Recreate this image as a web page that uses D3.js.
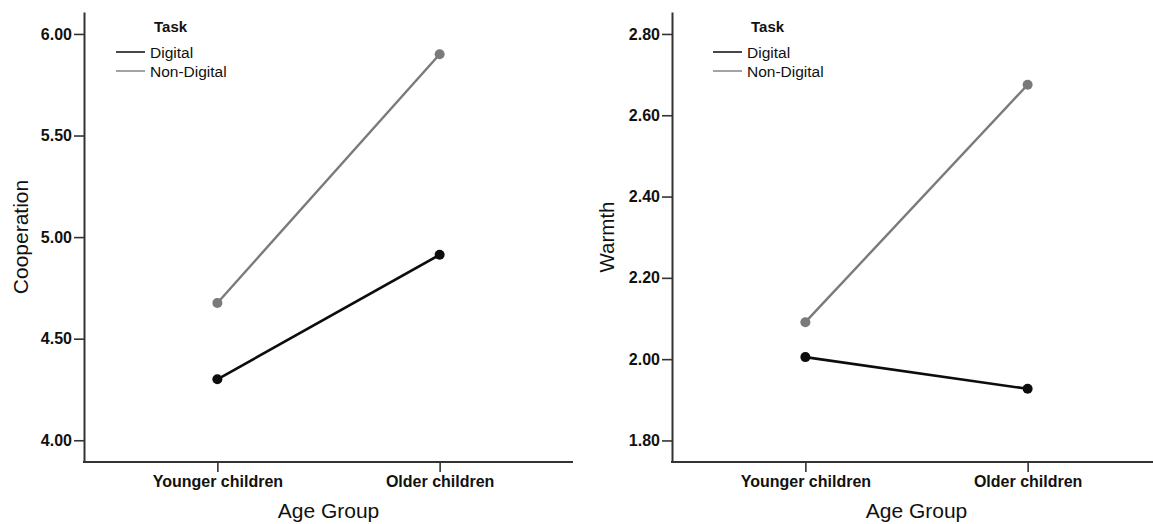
<!DOCTYPE html>
<html>
<head>
<meta charset="utf-8">
<script src="https://cdn.jsdelivr.net/npm/d3@7"></script>
<style>
  html, body { margin: 0; padding: 0; background: #fff; }
  svg { display: block; }
  text { font-family: "Liberation Sans", Arial, sans-serif; fill: #111; }
</style>
</head>
<body>
<svg id="chart" width="1153" height="524"></svg>
<script>
// ---- data ----
const ageGroups = ["Younger children", "Older children"];
const tasks = ["Digital", "Non-Digital"];
const cooperationDigital = [4.30, 4.913];
const cooperationNonDigital = [4.676, 5.90];
const warmthDigital = [2.005, 1.927];
const warmthNonDigital = [2.091, 2.675];
const cooperationTicks = [4.00, 4.50, 5.00, 5.50, 6.00];
const warmthTicks = [1.80, 2.00, 2.20, 2.40, 2.60, 2.80];
const cooperationExtent = [3.893, 6.108];
const warmthExtent = [1.747, 2.854];

const colors = { "Digital": "#0d0d0d", "Non-Digital": "#7a7a7a" };

const svg = d3.select("#chart");
svg.append("rect").attr("width", 1153).attr("height", 524).attr("fill", "#fff");

function panel(cfg) {
  const g = svg.append("g");
  const x = d3.scalePoint().domain(ageGroups).range([cfg.x0, cfg.x1]).padding(0.6);
  const y = d3.scaleLinear().domain(cfg.extent).range([462, 12]);

  // y axis
  const ya = g.append("g").attr("transform", `translate(${cfg.x0},0)`)
    .call(d3.axisLeft(y).tickValues(cfg.ticks).tickFormat(d3.format(".2f"))
      .tickSize(10).tickSizeOuter(0).tickPadding(2));
  ya.select(".domain").attr("stroke", "#333").attr("stroke-width", 2);
  ya.selectAll(".tick line").attr("stroke", "#333").attr("stroke-width", 1.6);
  ya.selectAll(".tick text").attr("font-size", "16px").attr("font-weight", "bold")
    .attr("fill", "#111").attr("font-family", "'Liberation Sans', Arial, sans-serif");

  // x axis
  const xa = g.append("g").attr("transform", `translate(0,462)`)
    .call(d3.axisBottom(x).tickSize(10).tickSizeOuter(0).tickPadding(4));
  xa.select(".domain").attr("stroke", "#333").attr("stroke-width", 2)
    .attr("d", `M${cfg.x0 - 1},0H${cfg.x1}`);
  xa.selectAll(".tick line").attr("stroke", "#333").attr("stroke-width", 1.6);
  xa.selectAll(".tick text").attr("font-size", "16px").attr("font-weight", "bold")
    .attr("fill", "#111").attr("font-family", "'Liberation Sans', Arial, sans-serif");

  // axis titles
  g.append("text").attr("x", (cfg.x0 + cfg.x1) / 2).attr("y", 518)
    .attr("text-anchor", "middle").attr("font-size", "21px").text("Age Group");
  g.append("text").attr("transform", `translate(${cfg.ytx},237) rotate(-90)`)
    .attr("text-anchor", "middle").attr("font-size", cfg.ytSize).text(cfg.title);

  // series
  const series = [
    { task: tasks[0], values: cfg.digital, w: 2.6, r: 5 },
    { task: tasks[1], values: cfg.nondigital, w: 2.4, r: 5 }
  ];
  const line = d3.line().x((d, i) => x(ageGroups[i])).y(d => y(d));
  series.forEach(s => {
    g.append("path").datum(s.values).attr("d", line)
      .attr("fill", "none").attr("stroke", colors[s.task]).attr("stroke-width", s.w);
    g.selectAll(null).data(s.values).enter().append("circle")
      .attr("cx", (d, i) => x(ageGroups[i])).attr("cy", d => y(d))
      .attr("r", s.r).attr("fill", colors[s.task]);
  });

  // legend
  const lg = g.append("g");
  lg.append("text").attr("x", cfg.lx + 38).attr("y", 32)
    .attr("font-size", "15px").attr("font-weight", "bold").text("Task");
  tasks.forEach((t, i) => {
    const yy = 52 + i * 19;
    lg.append("line").attr("x1", cfg.lx).attr("x2", cfg.lx + 29)
      .attr("y1", yy).attr("y2", yy)
      .attr("stroke", t === "Digital" ? "#333" : "#999").attr("stroke-width", 1.8);
    lg.append("text").attr("x", cfg.lx + 34).attr("y", yy + 6)
      .attr("font-size", "15.5px").text(t);
  });
}

panel({ x0: 84, x1: 573, extent: cooperationExtent, ticks: cooperationTicks,
  digital: cooperationDigital, nondigital: cooperationNonDigital,
  title: "Cooperation", ytx: 28, ytSize: "21px", lx: 116 });
panel({ x0: 672, x1: 1161, extent: warmthExtent, ticks: warmthTicks,
  digital: warmthDigital, nondigital: warmthNonDigital,
  title: "Warmth", ytx: 614, ytSize: "20.5px", lx: 713 });
</script>
</body>
</html>
